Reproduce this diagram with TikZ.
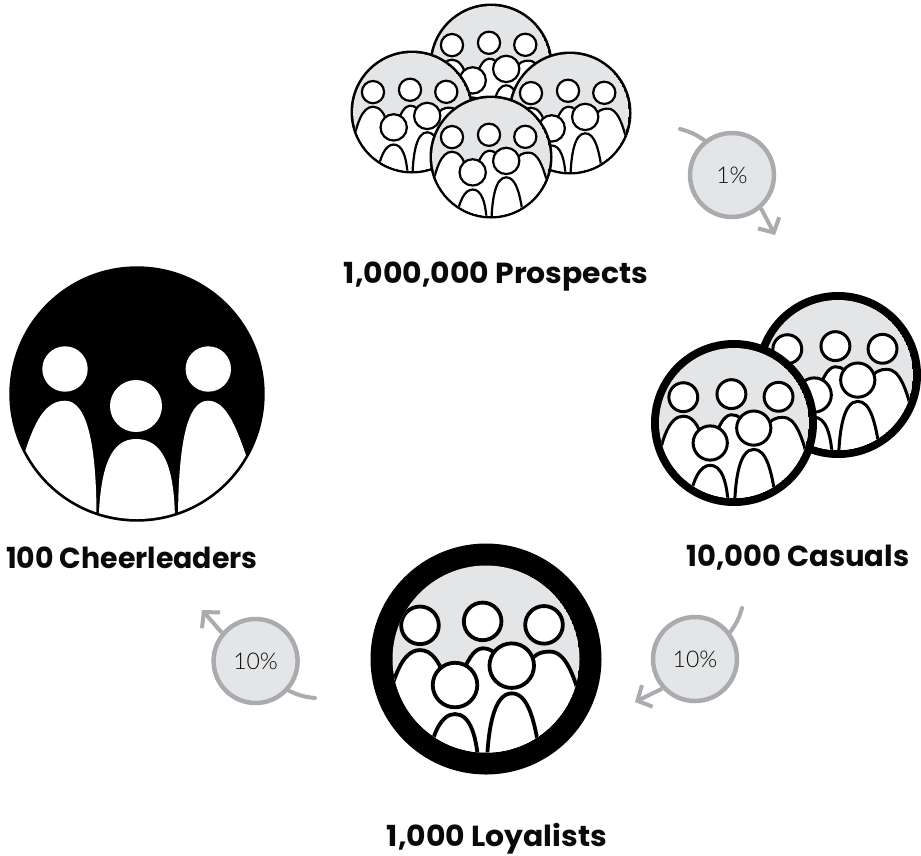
\documentclass[tikz,border=0pt]{standalone}
\usepackage{fontspec}
\usepackage{tikz}
\usetikzlibrary{arrows.meta,bending}
\newfontfamily\titlefont{Poppins}[FakeStretch=1.03]
\newfontfamily\pctfont{Lato}[UprightFont=* Light]

% x, y, people scale, outer radius, ring width, line width
\newcommand{\crowdicon}[6]{%
	\begin{scope}[shift={(#1,#2)},x=#3pt,y=#3pt,line width=#6pt]
		\fill[black] (0,0) circle[radius=#4pt];
		\begin{scope}
			\pgfmathsetmacro{\innerrad}{#4-#5}
			\clip (0,0) circle[radius=\innerrad pt];
			\fill[color1] (0,0) circle[radius=\innerrad pt];
			%% back row
			\filldraw[fill=white] (-1.02,-.6) .. controls (-.95,-.2) and (-.85,.09) .. (-.667,.09) .. controls (-.55,.09) and (-.47,-.02) .. (-.42,-.2);
			\filldraw[fill=white] (-.25,-.2) .. controls (-.2,-.02) and (-.12,.108) .. (-.034,.108) .. controls (.05,.108) and (.12,.06) .. (.2,-.1);
			\filldraw[fill=white] (.4,-.1) .. controls (.47,.05) and (.55,.075) .. (.646,.075) .. controls (.8,.075) and (.9,-.15) .. (1.0,-.6);
			\fill[white] (-1.02,-.6) -- (-.42,-.2) -- (-.25,-.2) -- (.2,-.1) -- (.4,-.1) -- (1.0,-.6) -- (1.0,-1.3) -- (-1.02,-1.3) -- cycle;
			\filldraw[fill=white] (-.667,.34) circle[radius=.19];
			\filldraw[fill=white] (-.034,.38) circle[radius=.19];
			\filldraw[fill=white] (.586,.345) circle[radius=.19];
			%% front row
			\filldraw[fill=white] (-.6,-1.1) .. controls (-.55,-.75) and (-.45,-.556) .. (-.313,-.556) .. controls (-.17,-.556) and (-.08,-.75) .. (-.07,-1.2);
			\filldraw[fill=white] (.005,-1.2) .. controls (.01,-.7) and (.08,-.347) .. (.26,-.347) .. controls (.42,-.347) and (.5,-.6) .. (.56,-1.1);
			\filldraw[fill=white] (-.313,-.263) circle[radius=.225];
			\filldraw[fill=white] (.26,-.067) circle[radius=.225];
		\end{scope}
	\end{scope}
}

\begin{document}
\begin{tikzpicture}[x=1pt,y=-1pt]
	\definecolor{color1}{HTML}{E4E5E6}
	\definecolor{color2}{HTML}{A9ABAE}
	\definecolor{color3}{HTML}{0A0A0A}
	\tikzset{
		count/.style={font=\titlefont\bfseries\fontsize{29}{29}\selectfont, text=color3, inner sep=0pt},
		rate/.style={circle, draw=color2, fill=color1, line width=4.5pt, minimum size=84pt, inner sep=0pt, text=color3, font=\pctfont\fontsize{23}{23}\selectfont},
		tail/.style={draw=color2, line width=4pt, line cap=round},
		head/.style={draw=color2, line width=4pt, -{Straight Barb[length=11pt,width=24pt,line width=4pt]}}
	}
	\useasboundingbox (0,0) rectangle (921,855);
	%% Prospects ------
	\crowdicon{491}{65}{58.5}{61.5}{2.6}{2.2}
	\crowdicon{412}{112}{58.5}{61.5}{2.6}{2.2}
	\crowdicon{570}{113}{58.5}{61.5}{2.6}{2.2}
	\crowdicon{491}{157}{58.5}{61.5}{2.6}{2.2}
	%% Casuals ------
	\crowdicon{838}{375}{76}{83}{8}{3}
	\crowdicon{734}{423}{76}{83}{8}{3}
	%% Loyalists ------
	\crowdicon{486}{659}{99}{115.5}{22}{3.8}
	%% Cheerleaders ------
	\begin{scope}[shift={(137,394)},y=1pt]
		\fill[black] (0,0) circle[radius=127.7pt];
		\clip (0,0) circle[radius=125pt];
		\fill[white] (-72,25) circle[radius=22.7pt];
		\fill[white] (71.3,25) circle[radius=22.7pt];
		\fill[white] (-1,-12) circle[radius=26pt];
		\fill[white] (-116,-70) .. controls (-105,-35) and (-95,-6.7) .. (-72,-6.7) .. controls (-50,-6.7) and (-40,-50) .. (-40.5,-130) -- (-116,-130) -- cycle;
		\fill[white] (-38.5,-130) .. controls (-37,-70) and (-25,-45) .. (-1,-45) .. controls (25,-45) and (38,-70) .. (38,-130) -- cycle;
		\fill[white] (41,-130) .. controls (41,-50) and (50,-6.7) .. (71,-6.7) .. controls (90,-6.7) and (100,-35) .. (112,-70) -- (112,-130) -- cycle;
	\end{scope}
	%% Labels ---------
	\node[count] (prospects) at (496,277) {1,000,000 Prospects};
	\node[count, xscale=.97, transform shape] (casuals) at (798,558) {10,000 Casuals};
	\node[count] (loyalists) at (497,839) {1,000 Loyalists};
	\node[count, xscale=.95, transform shape] (cheerleaders) at (132,558) {100 Cheerleaders};
	%% Rates ---------
	\coordinate (tail1) at (680,129);
	\coordinate (tip1) at (775,235);
	\coordinate (tail2) at (742,608);
	\coordinate (tip2) at (635,702);
	\coordinate (tail3) at (315,698);
	\coordinate (tip3) at (202,610);
	\node[rate] (rate1) at (732,175) {1\%};
	\node[rate] (rate2) at (695,659) {10\%};
	\node[rate] (rate3) at (255.6,661) {10\%};
	\draw[tail] (tail1) to[bend left=10] (rate1);
	\draw[head] (rate1.-49) -- (tip1);
	\draw[tail] (tail2) to[bend left=10] (rate2);
	\draw[head] (rate2.222) -- (tip2);
	\draw[tail] (tail3) to[bend left=10] (rate3);
	\draw[head] (rate3.140) -- (tip3);
\end{tikzpicture}
\end{document}
